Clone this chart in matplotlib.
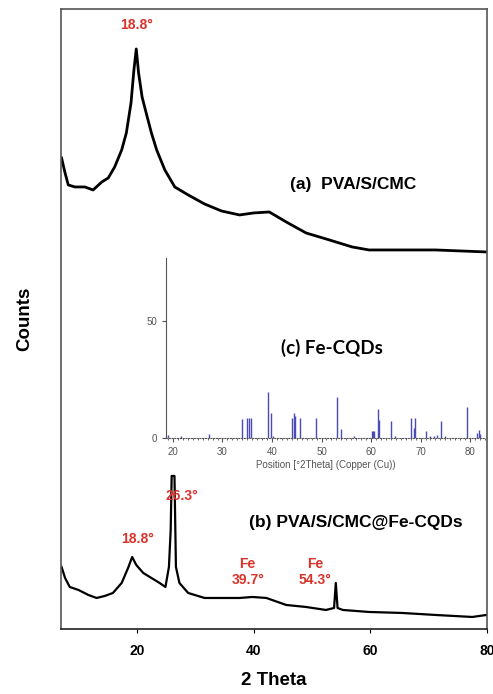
import matplotlib.pyplot as plt

# (a) PVA/S/CMC (arbitrary counts)
theta_a = [7.1, 7.7, 8.25, 9.4, 11.1, 12.5, 14.0, 15.1, 16.2, 17.4, 18.2, 19.0,
           19.5, 19.9, 20.3, 20.9, 21.6, 22.5, 23.4, 24.8, 26.5, 28.8, 31.6,
           34.5, 37.6, 40.0, 42.7, 45.6, 49.0, 53.0, 56.9, 59.8, 65.5, 71.2, 79.9]
counts_a = [471, 456, 444, 442, 442, 439, 447, 451, 462, 479, 496, 526,
            559, 580, 556, 532, 516, 496, 479, 459, 442, 434, 425,
            418, 414, 416, 417, 407, 396, 389, 382, 379, 379, 379, 377]

# (b) PVA/S/CMC@Fe-CQDs
theta_b = [7.1, 7.7, 8.5, 10.0, 11.7, 13.1, 14.5, 15.9, 17.4, 18.5, 19.2, 19.9,
           21.1, 22.5, 23.9, 24.9, 25.5, 25.8, 25.97, 26.45, 26.7, 27.3, 28.8,
           31.6, 34.5, 37.6, 39.8, 42.2, 45.6, 49.0, 52.4, 53.8, 54.1, 54.4,
           55.3, 59.8, 65.5, 71.2, 77.5, 79.9]
counts_b = [62, 51, 42, 39, 34, 31, 33, 36, 46, 61, 72, 64,
            56, 51, 46, 42, 62, 99, 153, 153, 62, 46, 36,
            31, 31, 31, 32, 31, 24, 22, 19, 21, 46, 21,
            19, 17, 16, 14, 12, 14]

# (c) Fe-CQDs reference sticks
stick_pos = [19.0, 21.7, 27.2, 34.0, 35.0, 35.4, 35.7, 39.2, 39.7, 40.2, 44.1,
             44.4, 44.6, 45.7, 48.9, 53.1, 53.9, 56.5, 60.2, 60.4, 60.6, 61.4,
             61.7, 64.1, 64.8, 68.1, 68.6, 68.9, 71.1, 72.0, 72.7, 73.3, 74.1,
             75.0, 79.3, 81.4, 81.7, 82.0]
stick_h = [1.2, 0.8, 1.8, 8.2, 8.4, 8.6, 8.6, 19.5, 10.8, 1.0, 8.4,
           10.6, 9.6, 8.7, 8.4, 17.4, 3.7, 0.8, 2.8, 3.0, 2.8, 12.3,
           7.6, 7.3, 1.0, 8.4, 4.1, 8.4, 3.1, 1.0, 1.0, 1.2, 7.3,
           1.0, 13.4, 2.0, 3.4, 1.6]

red = '#d9342b'
plt.rcParams['font.family'] = ['Liberation Sans', 'DejaVu Sans']

fig = plt.figure(figsize=(4.93, 6.94), dpi=100)
ax = fig.add_axes([0.1237, 0.0937, 0.864, 0.8934])
ax.plot(theta_a, counts_a, color='black', linewidth=2.0)
ax.plot(theta_b, counts_b, color='black', linewidth=1.6)
ax.set_xlim(7, 80)
ax.set_ylim(0, 620)
ax.set_yticks([])
ax.set_xticks([20, 40, 60, 80])
ax.tick_params(axis='x', length=3, labelsize=10, pad=8)
for lab in ax.get_xticklabels():
    lab.set_fontweight('bold')
for s in ax.spines.values():
    s.set_color('#555555')
    s.set_linewidth(1.2)
ax.spines['bottom'].set_color('#222222')
ax.set_xlabel('2 Theta', fontsize=13.5, fontweight='bold', labelpad=10)
ax.set_ylabel('Counts', fontsize=13.5, fontweight='bold', labelpad=20)

# annotations
ax.text(19.9, 604, '18.8°', color=red, fontsize=10, fontweight='bold', ha='center', va='center')
ax.text(57.0, 444, '(a)  PVA/S/CMC', fontsize=12.5, fontweight='bold', ha='center', va='center')
ax.text(57.5, 106, '(b) PVA/S/CMC@Fe-CQDs', fontsize=12.5, fontweight='bold', ha='center', va='center')
ax.text(20.2, 90, '18.8°', color=red, fontsize=10, fontweight='bold', ha='center', va='center')
ax.text(27.8, 133, '26.3°', color=red, fontsize=10, fontweight='bold', ha='center', va='center')
ax.text(39.0, 57, 'Fe\n39.7°', color=red, fontsize=10, fontweight='bold', ha='center', va='center',
        linespacing=1.15)
ax.text(50.5, 57, 'Fe\n54.3°', color=red, fontsize=10, fontweight='bold', ha='center', va='center',
        linespacing=1.15)

# inset: reference pattern
ins = fig.add_axes([0.3367, 0.3689, 0.647, 0.2594], facecolor='none')
ins.vlines(stick_pos, 0, stick_h, color='#4b4bb5', linewidth=1.0)
ins.set_xlim(18.6, 83.0)
ins.set_ylim(0, 77)
ins.set_xticks([20, 30, 40, 50, 60, 70, 80])
ins.set_xticks(range(19, 84), minor=True)
ins.set_yticks([0, 50])
ins.tick_params(labelsize=7, colors='#555555', length=3, width=0.8)
ins.tick_params(which='minor', length=1.5, colors='#555555')
ins.spines['top'].set_visible(False)
ins.spines['right'].set_visible(False)
ins.spines['left'].set_color('#555555')
ins.spines['bottom'].set_color('#555555')
ins.spines['bottom'].set_linestyle((0, (1, 1.5)))
ins.set_xlabel('Position [°2Theta] (Copper (Cu))', fontsize=7, color='#555555', labelpad=2)
ins.text(0.52, 0.5, '(c) Fe-CQDs', transform=ins.transAxes, fontsize=13.5, fontweight='bold',
         family=['Lato', 'DejaVu Sans'], ha='center', va='center')

fig.savefig('out.png', dpi=100)
